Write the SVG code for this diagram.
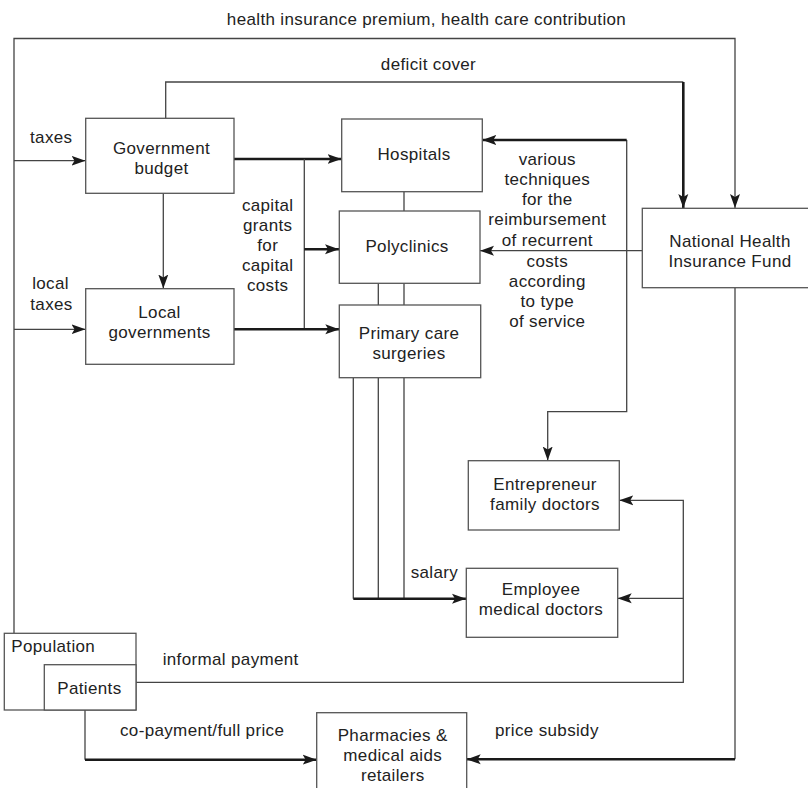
<svg xmlns="http://www.w3.org/2000/svg" width="808" height="788" viewBox="0 0 808 788">
  <style>
    text { font-family: "Liberation Sans", Arial, sans-serif; font-size: 17px; fill: #222; letter-spacing: 0.35px; }
    .c { text-anchor: middle; }
    .box { fill: #fff; stroke: #555; stroke-width: 1.3; }
    .ln { fill: none; stroke: #444; stroke-width: 1.3; }
    .thk { fill: none; stroke: #1a1a1a; stroke-width: 2.6; }
  </style>
  <defs>
    <marker id="ah" markerUnits="userSpaceOnUse" markerWidth="14" markerHeight="12" viewBox="0 0 14 12" refX="14" refY="6" orient="auto">
      <path d="M0,1 L14,6 L0,11 L3,6 Z" fill="#1a1a1a"/>
    </marker>
  </defs>
  <rect width="808" height="788" fill="#fff"/>

  <!-- connectors -->
  <g id="connectors">
    <!-- premium / contribution from population to the fund -->
    <path class="ln" d="M14,633 V38.5 H735 V208" marker-end="url(#ah)"/>
    <!-- deficit cover -->
    <path class="ln" d="M165.7,118.3 V82 H683.3"/>
    <path class="thk" d="M683.3,82 V208" marker-end="url(#ah)"/>
    <!-- taxes -->
    <path class="ln" d="M14,160.7 H85.5" marker-end="url(#ah)"/>
    <path class="ln" d="M14,329.3 H85.5" marker-end="url(#ah)"/>
    <!-- budget to local governments -->
    <path class="ln" d="M163.3,193.3 V288.5" marker-end="url(#ah)"/>
    <!-- capital grants -->
    <path class="thk" d="M234,159 H341.5" marker-end="url(#ah)"/>
    <path class="ln" d="M304.3,159 V329.3"/>
    <path class="thk" d="M304.3,249.3 H339" marker-end="url(#ah)"/>
    <path class="thk" d="M234,329.3 H339.3" marker-end="url(#ah)"/>
    <!-- links between providers -->
    <path class="ln" d="M404,191.7 V211 M378.3,283.3 V305 M404,283.3 V305"/>
    <!-- salary -->
    <path class="ln" d="M353.3,377.7 V598.7 M378.3,377.7 V598.7 M404,377.7 V598.7"/>
    <path class="thk" d="M353.3,598.7 H466" marker-end="url(#ah)"/>
    <!-- reimbursement from the fund -->
    <path class="ln" d="M642.3,250.7 H480" marker-end="url(#ah)"/>
    <path class="ln" d="M626.7,140 V411.7 H547.7 V460.5" marker-end="url(#ah)"/>
    <path class="thk" d="M626.7,140 H482.3" marker-end="url(#ah)"/>
    <!-- price subsidy -->
    <path class="ln" d="M735,287.7 V759.3"/>
    <path class="thk" d="M735,759.3 H466.7" marker-end="url(#ah)"/>
    <!-- informal payment -->
    <path class="ln" d="M136,682.3 H683.3 V500.3 H619.3" marker-end="url(#ah)"/>
    <path class="ln" d="M683.3,598.3 H617.7" marker-end="url(#ah)"/>
    <!-- co-payment -->
    <path class="ln" d="M85,710 V759.7"/>
    <path class="thk" d="M85,759.7 H316.7" marker-end="url(#ah)"/>
  </g>

  <!-- flow labels -->
  <g id="labels">
    <text class="c" x="426.5" y="25">health insurance premium, health care contribution</text>
    <text class="c" x="428.5" y="70">deficit cover</text>
    <text x="30" y="142.7">taxes</text>
    <text class="c" x="50.5" y="289">local</text>
    <text class="c" x="51.5" y="310">taxes</text>
    <text class="c" x="267.7" y="210.5">capital</text>
    <text class="c" x="267.7" y="230.7">grants</text>
    <text class="c" x="267.7" y="250.9">for</text>
    <text class="c" x="267.7" y="271.1">capital</text>
    <text class="c" x="267.7" y="291.3">costs</text>
    <text class="c" x="547.3" y="165">various</text>
    <text class="c" x="547.3" y="185">techniques</text>
    <text class="c" x="547.3" y="205">for the</text>
    <text class="c" x="547.3" y="225">reimbursement</text>
    <text class="c" x="547.3" y="245.5">of recurrent</text>
    <text class="c" x="547.3" y="266.5">costs</text>
    <text class="c" x="547.3" y="286.5">according</text>
    <text class="c" x="547.3" y="306.5">to type</text>
    <text class="c" x="547.3" y="326.5">of service</text>
    <text x="410.7" y="578.3">salary</text>
    <text x="162.7" y="665">informal payment</text>
    <text x="120" y="736">co-payment/full price</text>
    <text x="495" y="736">price subsidy</text>
  </g>

  <!-- nodes -->
  <g id="government-budget">
    <rect class="box" x="85.7" y="118.3" width="148.3" height="75"/>
    <text class="c" x="161.5" y="154">Government</text>
    <text class="c" x="161.5" y="174">budget</text>
  </g>
  <g id="local-governments">
    <rect class="box" x="85.7" y="288.7" width="148.3" height="75.6"/>
    <text class="c" x="159.5" y="318">Local</text>
    <text class="c" x="159.5" y="338">governments</text>
  </g>
  <g id="hospitals">
    <rect class="box" x="341.7" y="119" width="140.6" height="72.7"/>
    <text class="c" x="414" y="160">Hospitals</text>
  </g>
  <g id="polyclinics">
    <rect class="box" x="339.3" y="211" width="140.7" height="72.3"/>
    <text class="c" x="407" y="251.7">Polyclinics</text>
  </g>
  <g id="primary-care">
    <rect class="box" x="339.3" y="305" width="141.4" height="72.7"/>
    <text class="c" x="409" y="339.3">Primary care</text>
    <text class="c" x="409" y="359.3">surgeries</text>
  </g>
  <g id="nhif">
    <rect class="box" x="642.3" y="208.3" width="170" height="79.4"/>
    <text class="c" x="730" y="246.7">National Health</text>
    <text class="c" x="730" y="266.7">Insurance Fund</text>
  </g>
  <g id="entrepreneur-doctors">
    <rect class="box" x="468.3" y="460.7" width="151" height="69.3"/>
    <text class="c" x="545" y="490">Entrepreneur</text>
    <text class="c" x="545" y="510">family doctors</text>
  </g>
  <g id="employee-doctors">
    <rect class="box" x="466.3" y="568.3" width="151.4" height="69"/>
    <text class="c" x="541" y="595">Employee</text>
    <text class="c" x="541" y="615">medical doctors</text>
  </g>
  <g id="population">
    <rect class="box" x="4.3" y="633.3" width="131.7" height="76.7"/>
    <text x="11.3" y="652.3">Population</text>
  </g>
  <g id="patients">
    <rect class="box" x="44.3" y="664.7" width="91.7" height="45.3"/>
    <text x="57.3" y="694">Patients</text>
  </g>
  <g id="pharmacies">
    <rect class="box" x="316.7" y="712.7" width="150" height="90"/>
    <text class="c" x="392.7" y="740.7">Pharmacies &amp;</text>
    <text class="c" x="392.7" y="760.7">medical aids</text>
    <text class="c" x="392.7" y="780.7">retailers</text>
  </g>
</svg>
